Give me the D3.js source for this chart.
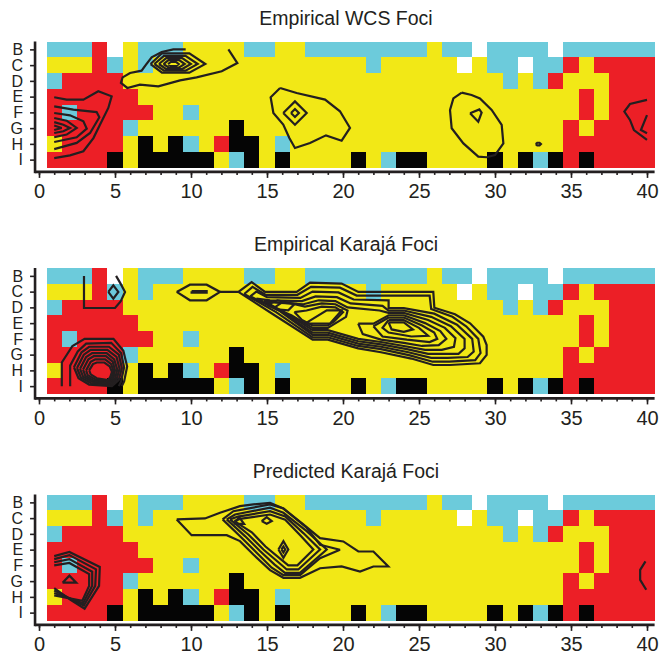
<!DOCTYPE html>
<html>
<head>
<meta charset="utf-8">
<script src="https://cdn.jsdelivr.net/npm/d3@7/dist/d3.min.js"></script>
<style>
body { margin: 0; background: #fff }
text { font-family: 'Liberation Sans', Arial, sans-serif; fill: #231f20 }
</style>
</head>
<body>
<svg id="chipChartSVG"></svg>
<script>
var chartWidth = 660
var chartHeight = 655
var panelStep = 226.5

var rowLabels = ['B', 'C', 'D', 'E', 'F', 'G', 'H', 'I']
var xTickValues = [0, 5, 10, 15, 20, 25, 30, 35, 40]
var xMinorTickValues = d3.range(0, 41)
var panelTitles = ['Empirical WCS Foci', 'Empirical Karajá Foci', 'Predicted Karajá Foci']

// colour category of each chip, columns 1..40 (grouped by 5)
var chipRows = [
    'CCCRW YCCCY YYYCC YYCCC CCCCC YCCWC CCCWC CCCCC',
    'YYYRC YCYYY YYYYY YYYYY YCYYY YYWYC CWCCR YRRRR',
    'CRRRR YYYYY YYYYY YYYYY YYYYY YYYYY CYCRY YYRRR',
    'RRRRR RYYYY YYYYY YYYYY YYYYY YYYYY YYYYY RYRRR',
    'RCRRR RRYYC YYYYY YYYYY YYYYY YYYYY YYYYY RYRRR',
    'RRRRR CYYYY YYKYY YYYYY YYYYY YYYYY YYYYR YRRRR',
    'YRRRR YKYKC YRKKY CYYYY YYYYY YYYYY YYYYR RRRRR',
    'RRRRK YKKKK KYCKY KYYYY KYCKK YYYYK YKCKR KRRRR'
]
var chipColors = { R: '#ec1f26', Y: '#f2e816', C: '#6ccbdb', K: '#050505', W: '#ffffff' }

// contour lines, [column, row] with row 1 = B ... 8 = I
var wcsContours = [
    [[9.65, 1.0], [8.84, 1.0], [8.07, 1.17], [7.41, 1.5], [7.04, 1.97], [6.75, 2.35], [5.99, 2.5], [5.5, 2.78], [5.39, 3.13], [5.81, 3.45], [6.64, 3.24], [7.85, 3.35], [9.28, 2.97], [10.37, 2.78], [12.02, 2.39], [13.05, 1.87], [12.46, 1.0]],
    [[8.49, 1.93], [8.67, 1.8], [9.02, 1.8], [9.19, 1.93], [9.02, 2.06], [8.67, 2.06], [8.49, 1.93]],
    [[8.19, 1.93], [8.52, 1.68], [9.22, 1.68], [9.59, 1.93], [9.22, 2.15], [8.52, 2.15], [8.19, 1.93]],
    [[7.89, 1.93], [8.37, 1.55], [9.42, 1.55], [9.99, 1.93], [9.42, 2.25], [8.37, 2.25], [7.89, 1.93]],
    [[7.59, 1.93], [8.22, 1.41], [9.64, 1.41], [10.44, 1.93], [9.64, 2.35], [8.22, 2.35], [7.59, 1.93]],
    [[7.34, 1.93], [8.09, 1.25], [9.89, 1.25], [10.94, 1.93], [9.89, 2.48], [8.09, 2.48], [7.34, 1.93]],
    [[1.0, 4.04], [1.82, 4.19], [2.92, 4.19], [3.9, 3.66], [4.78, 3.98], [4.56, 4.72], [4.01, 5.78], [3.58, 6.63], [2.92, 7.47], [2.04, 7.73], [1.0, 7.9]],
    [[1.0, 4.62], [2.26, 4.83], [3.79, 4.98], [3.97, 5.31], [3.36, 6.31], [2.48, 6.94], [1.0, 7.33]],
    [[1.0, 5.04], [2.04, 5.19], [2.92, 5.57], [3.14, 6.03], [2.48, 6.58], [1.0, 6.88]],
    [[1.0, 5.36], [1.82, 5.53], [2.48, 5.99], [1.82, 6.41], [1.0, 6.58]],
    [[1.0, 5.62], [1.6, 5.79], [2.04, 5.99], [1.6, 6.2], [1.0, 6.31]],
    [[1.0, 5.83], [1.49, 5.99], [1.0, 6.12]],
    [[15.86, 3.45], [16.95, 3.77], [18.82, 4.19], [19.8, 4.93], [20.46, 5.99], [19.91, 6.8], [18.88, 6.46], [17.83, 6.94], [16.84, 7.26], [16.47, 6.63], [16.07, 5.78], [15.42, 5.04], [15.24, 4.04], [15.86, 3.45]],
    [[16.07, 5.04], [16.84, 4.3], [17.61, 5.04], [16.84, 5.78], [16.07, 5.04]],
    [[16.58, 5.04], [16.84, 4.79], [17.1, 5.04], [16.84, 5.29], [16.58, 5.04]],
    [[27.81, 3.75], [28.46, 3.9], [29.01, 4.11], [29.78, 4.85], [30.44, 5.8], [30.55, 6.97], [30.0, 7.71], [29.45, 7.85], [28.9, 7.81], [27.92, 6.97], [27.15, 6.01], [27.04, 4.85], [27.26, 4.11], [27.81, 3.75]],
    [[28.36, 5.06], [28.97, 4.81], [29.12, 5.02], [28.9, 5.59], [28.36, 5.06]],
    [[32.68, 7.01], [32.78, 6.93], [32.93, 6.93], [33.02, 7.01], [32.93, 7.09], [32.78, 7.09], [32.68, 7.01]],
    [[40.0, 4.21], [38.88, 4.47], [38.51, 4.95], [38.88, 5.48], [39.14, 6.12], [40.0, 6.75]],
    [[40.0, 5.17], [39.6, 6.12], [40.0, 6.33]]
]

var karajaContours = [
    [[2.96, 1.0], [2.96, 3.04], [5.0, 3.04], [5.37, 2.62], [5.66, 2.02], [5.33, 1.43], [5.07, 1.0]],
    [[4.56, 2.02], [4.89, 1.6], [5.22, 2.02], [4.89, 2.44], [4.56, 2.02]],
    [[9.06, 2.02], [9.93, 1.56], [11.03, 1.56], [11.91, 2.02], [11.03, 2.55], [9.93, 2.55], [9.06, 2.02]],
    [[10.04, 1.97], [11.03, 1.97], [11.03, 2.07], [10.04, 2.07], [10.04, 1.97]],
    [[1.5, 8.0], [1.5, 6.5], [2.2, 5.45], [3.0, 5.0], [4.9, 5.0], [5.55, 5.75], [5.8, 6.75], [5.6, 7.7], [5.45, 8.0]],
    [[2.05, 8.0], [2.05, 6.7], [2.55, 5.8], [3.1, 5.3], [4.75, 5.25], [5.4, 5.9], [5.6, 6.8], [5.4, 7.7], [5.25, 8.0]],
    [[2.3, 6.8], [2.8, 5.85], [3.3, 5.5], [4.6, 5.5], [5.25, 6.0], [5.45, 6.85], [5.25, 7.6], [4.8, 8.0], [3.3, 7.9], [2.6, 7.5], [2.3, 6.8]],
    [[2.5, 6.85], [2.95, 6.0], [3.4, 5.7], [4.5, 5.7], [5.1, 6.15], [5.3, 6.9], [5.1, 7.6], [4.75, 7.92], [3.4, 7.8], [2.75, 7.45], [2.5, 6.85]],
    [[2.7, 6.9], [3.1, 6.15], [3.5, 5.9], [4.45, 5.9], [4.95, 6.3], [5.15, 6.95], [5.0, 7.55], [4.7, 7.85], [3.5, 7.72], [2.9, 7.4], [2.7, 6.9]],
    [[2.9, 6.95], [3.25, 6.3], [3.6, 6.1], [4.4, 6.1], [4.85, 6.45], [5.0, 7.0], [4.9, 7.5], [4.65, 7.78], [3.6, 7.65], [3.05, 7.35], [2.9, 6.95]],
    [[3.1, 7.0], [3.4, 6.45], [3.7, 6.3], [4.35, 6.3], [4.75, 6.6], [4.9, 7.05], [4.8, 7.45], [4.6, 7.7], [3.7, 7.58], [3.2, 7.3], [3.1, 7.0]],
    [[3.3, 7.0], [3.55, 6.6], [3.8, 6.5], [4.3, 6.5], [4.65, 6.75], [4.8, 7.1], [4.7, 7.4], [4.55, 7.62], [3.8, 7.5], [3.4, 7.25], [3.3, 7.0]],
    [[11.91, 2.02], [13.12, 2.02], [13.99, 1.39], [14.87, 2.02], [16.95, 2.02], [17.83, 1.43], [19.91, 1.49], [21.01, 2.02], [25.94, 2.02], [26.01, 3.02], [27.37, 3.44], [28.36, 4.01], [29.23, 4.86], [29.45, 5.39], [29.45, 6.02], [29.01, 6.55], [27.04, 6.66], [25.94, 6.66], [24.5, 6.25], [22.5, 5.85], [21.0, 5.6], [19.0, 5.05], [18.0, 5.05], [15.5, 3.5], [13.12, 2.02]],
    [[13.5, 2.15], [14.05, 1.7], [14.9, 2.2], [17.0, 2.2], [17.9, 1.7], [19.8, 1.75], [20.9, 2.25], [25.7, 2.25], [25.8, 3.1], [27.2, 3.6], [28.1, 4.2], [28.9, 5.0], [29.05, 5.9], [28.7, 6.35], [27.0, 6.45], [25.9, 6.45], [24.4, 6.05], [22.5, 5.65], [21.0, 5.45], [19.0, 4.9], [18.0, 4.9], [15.6, 3.3], [13.5, 2.15]],
    [[13.9, 2.3], [14.3, 2.0], [15.0, 2.35], [17.2, 2.4], [18.0, 2.0], [19.7, 2.05], [20.7, 2.5], [23.0, 2.55], [23.0, 3.05], [24.0, 3.05], [26.0, 3.4], [27.5, 4.1], [28.5, 5.0], [28.6, 5.8], [28.2, 6.15], [26.9, 6.2], [25.8, 6.2], [24.3, 5.85], [22.5, 5.5], [21.0, 5.3], [19.0, 4.75], [18.0, 4.75], [15.8, 3.2], [13.9, 2.3]],
    [[14.3, 2.45], [15.2, 2.55], [17.3, 2.6], [18.2, 2.3], [19.6, 2.35], [20.5, 2.75], [22.6, 2.9], [23.0, 3.2], [24.0, 3.2], [25.8, 3.6], [27.1, 4.2], [28.0, 5.0], [28.0, 5.6], [27.6, 5.95], [25.6, 5.95], [24.2, 5.65], [22.5, 5.35], [21.0, 5.15], [19.0, 4.6], [18.0, 4.6], [16.0, 3.3], [14.3, 2.45]],
    [[14.8, 2.6], [15.6, 2.7], [17.4, 2.8], [18.4, 2.55], [19.5, 2.6], [20.3, 3.0], [22.4, 3.2], [23.0, 3.35], [24.0, 3.35], [25.6, 3.8], [26.7, 4.3], [27.4, 4.95], [27.3, 5.5], [26.5, 5.7], [25.4, 5.7], [24.0, 5.45], [22.5, 5.2], [21.0, 5.0], [19.0, 4.45], [18.0, 4.45], [16.3, 3.4], [14.8, 2.6]],
    [[15.0, 2.85], [15.7, 2.55], [17.5, 2.95], [18.6, 2.75], [19.5, 2.8], [20.3, 3.2], [20.2, 3.6], [19.0, 4.3], [18.0, 4.3], [16.6, 3.5], [15.0, 2.85]],
    [[16.8, 3.3], [17.6, 3.2], [18.6, 2.95], [19.5, 3.0], [20.0, 3.3], [19.4, 3.9], [19.0, 4.15], [18.0, 4.15], [17.3, 3.8], [16.8, 3.3]],
    [[15.53, 2.98], [15.97, 2.7], [16.84, 2.76], [16.4, 3.19], [15.64, 3.12], [15.53, 2.98]],
    [[17.5, 4.03], [18.93, 3.19], [19.91, 3.19], [19.15, 4.03], [17.5, 4.03]],
    [[21.0, 4.03], [22.0, 4.03], [23.0, 3.5], [24.0, 3.5], [25.4, 4.0], [26.4, 4.5], [26.8, 5.0], [26.3, 5.4], [25.2, 5.45], [24.0, 5.25], [22.5, 5.05], [21.3, 4.7], [21.0, 4.03]],
    [[22.0, 4.2], [23.0, 3.65], [24.0, 3.65], [25.2, 4.15], [26.0, 4.6], [26.2, 5.0], [25.7, 5.2], [24.2, 5.05], [22.6, 4.85], [22.0, 4.2]],
    [[23.0, 3.8], [24.0, 3.8], [25.0, 4.3], [25.6, 4.8], [24.5, 4.85], [23.0, 4.6], [22.6, 4.3], [23.0, 3.8]],
    [[23.0, 3.95], [24.0, 3.95], [24.6, 4.4], [24.0, 4.55], [23.2, 4.4], [23.0, 3.95]]
]

var predictedContours = [
    [[1.0, 4.41], [2.0, 4.15], [4.0, 5.1], [3.95, 6.3], [3.0, 7.75], [2.1, 7.2], [1.0, 6.45]],
    [[1.0, 4.6], [2.0, 4.35], [3.75, 5.25], [3.7, 6.3], [2.95, 7.55], [1.0, 6.6]],
    [[1.0, 4.8], [2.0, 4.6], [3.5, 5.4], [3.5, 6.3], [2.9, 7.4], [1.0, 6.75]],
    [[1.0, 5.0], [2.0, 4.85], [3.3, 5.55], [3.3, 6.3], [2.85, 7.25], [1.0, 6.9]],
    [[1.55, 6.1], [2.0, 5.65], [2.45, 6.1], [1.55, 6.1]],
    [[9.06, 2.08], [10.92, 2.02], [11.91, 1.66], [13.22, 1.24], [14.1, 1.13], [15.2, 1.03], [16.08, 1.39], [17.39, 2.4], [18.49, 3.27], [20.02, 3.48], [21.01, 4.12], [22.0, 4.12], [22.98, 5.07], [22.0, 5.07], [21.12, 5.39], [19.91, 5.07], [18.49, 5.18], [17.17, 5.79], [16.08, 5.79], [15.2, 5.3], [14.1, 4.31], [13.22, 3.46], [12.35, 3.08], [10.04, 3.08], [9.06, 2.08]],
    [[12.08, 2.08], [12.79, 1.56], [15.2, 1.13], [16.08, 1.39], [17.61, 2.61], [18.49, 3.69], [19.8, 4.01], [18.49, 4.54], [17.17, 5.62], [16.08, 5.62], [15.31, 5.15], [14.32, 4.2], [13.33, 3.25], [12.08, 2.08]],
    [[12.35, 2.08], [12.9, 1.77], [15.2, 1.34], [16.08, 1.66], [17.61, 2.83], [18.93, 3.99], [17.17, 5.47], [16.18, 5.47], [15.5, 4.95], [14.54, 4.09], [13.55, 3.14], [12.35, 2.08]],
    [[12.57, 2.08], [13.1, 1.9], [15.2, 1.56], [16.2, 1.9], [17.39, 2.95], [18.49, 3.99], [17.06, 5.26], [16.3, 5.26], [15.75, 4.8], [14.76, 3.99], [13.77, 3.04], [12.57, 2.08]],
    [[12.85, 2.19], [13.22, 2.05], [15.2, 1.77], [16.2, 2.1], [17.2, 3.1], [18.05, 3.99], [17.0, 5.0], [16.4, 5.0], [15.9, 4.6], [14.9, 3.8], [14.0, 2.9], [12.85, 2.19]],
    [[12.85, 2.36], [13.16, 1.94], [13.49, 2.36], [12.85, 2.36]],
    [[14.65, 2.19], [14.98, 1.94], [15.31, 2.19], [14.98, 2.36], [14.65, 2.19]],
    [[15.75, 3.99], [16.08, 3.46], [16.4, 3.99], [16.08, 4.52], [15.75, 3.99]],
    [[15.95, 3.99], [16.08, 3.8], [16.2, 3.99], [16.08, 4.18], [15.95, 3.99]],
    [[39.9, 4.75], [39.55, 5.28], [39.55, 5.92], [39.95, 6.55]]
]

var panelContours = [wcsContours, karajaContours, predictedContours]

var chipChartSVG = d3.select('#chipChartSVG')
    .attr('width', chartWidth)
    .attr('height', chartHeight)

var xScaleChips = d3.scaleLinear().domain([0, 40]).range([39, 647])

function drawPanel(panelIndex) {
    var top = panelIndex * panelStep
    var yScaleChips = d3.scaleLinear().domain([0.5, 8.5]).range([top + 41.5, top + 167.5])
    var layer = chipChartSVG.append('g')

    layer.append('text')
        .attr('x', 346)
        .attr('y', top + 24.5)
        .attr('text-anchor', 'middle')
        .style('font-size', '19.5px')
        .text(panelTitles[panelIndex])

    // chips
    var cells = []
    chipRows.forEach(function (rowString, r) {
        rowString.replace(/ /g, '').split('').forEach(function (code, c) {
            cells.push({ col: c + 1, row: r + 1, code: code })
        })
    })
    layer.append('g').selectAll('rect')
        .data(cells)
        .enter()
        .append('rect')
        .attr('x', function (d) { return xScaleChips(d.col - 0.5) })
        .attr('y', function (d) { return yScaleChips(d.row - 0.5) })
        .attr('width', function (d) { return xScaleChips(d.col + 0.5) - xScaleChips(d.col - 0.5) })
        .attr('height', function (d) { return yScaleChips(d.row + 0.5) - yScaleChips(d.row - 0.5) })
        .attr('fill', function (d) { return chipColors[d.code] })
        .attr('shape-rendering', 'crispEdges')

    // contours
    var contourLine = d3.line()
        .x(function (d) { return xScaleChips(d[0]) })
        .y(function (d) { return yScaleChips(d[1]) })
    layer.append('g').selectAll('path')
        .data(panelContours[panelIndex])
        .enter()
        .append('path')
        .attr('d', contourLine)
        .attr('fill', 'none')
        .attr('stroke', '#231f20')
        .attr('stroke-width', 2.2)
        .attr('stroke-linejoin', 'miter')
        .attr('stroke-miterlimit', 3)

    // axes
    var axisY = yScaleChips(8.78)
    var xAxisMajor = d3.axisBottom(xScaleChips).tickValues(xTickValues).tickSize(6).tickSizeOuter(0).tickPadding(6)
    var xAxisMinor = d3.axisBottom(xScaleChips).tickValues(xMinorTickValues).tickSize(3).tickSizeOuter(0).tickFormat('')
    var xAxisLayer = layer.append('g').attr('transform', 'translate(0, ' + axisY + ')')
    xAxisLayer.append('g').call(xAxisMinor)
    xAxisLayer.append('g').call(xAxisMajor)
    xAxisLayer.selectAll('.domain').remove()
    xAxisLayer.selectAll('line').attr('stroke', '#231f20').attr('stroke-width', 1.6)
    xAxisLayer.selectAll('text').style('font-size', '20px').attr('fill', '#231f20')
    xAxisLayer.append('line')
        .attr('x1', xScaleChips(-0.26))
        .attr('x2', xScaleChips(40.5))
        .attr('stroke', '#231f20')
        .attr('stroke-width', 2.6)

    var yAxis = d3.axisLeft(yScaleChips)
        .tickValues(d3.range(1, 9))
        .tickFormat(function (d) { return rowLabels[d - 1] })
        .tickSize(5)
        .tickSizeOuter(0)
        .tickPadding(7)
    var yAxisLayer = layer.append('g').attr('transform', 'translate(' + xScaleChips(-0.26) + ', 0)')
    yAxisLayer.call(yAxis)
    yAxisLayer.selectAll('.domain').remove()
    yAxisLayer.selectAll('line').attr('stroke', '#231f20').attr('stroke-width', 1.6)
    yAxisLayer.selectAll('text').style('font-size', '16px').attr('fill', '#231f20')
    yAxisLayer.append('line')
        .attr('y1', yScaleChips(0.5))
        .attr('y2', axisY + 1.3)
        .attr('stroke', '#231f20')
        .attr('stroke-width', 2.6)
}

for (var p = 0; p < 3; p++) {
    drawPanel(p)
}
</script>
</body>
</html>
